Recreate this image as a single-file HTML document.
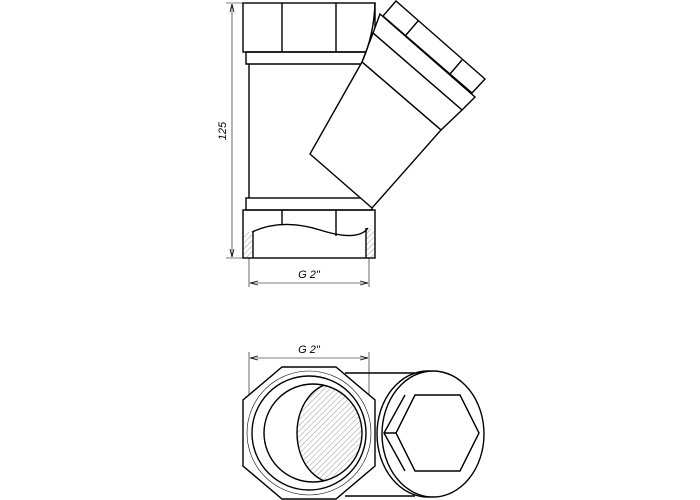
<!DOCTYPE html>
<html><head><style>body{margin:0;background:#fff}svg{display:block}</style></head><body>
<svg width="700" height="500" viewBox="0 0 700 500" xmlns="http://www.w3.org/2000/svg">
<defs>
<pattern id="h" width="4" height="4" patternUnits="userSpaceOnUse" patternTransform="rotate(45)"><line x1="0" y1="0" x2="0" y2="4" stroke="#555" stroke-width="0.6"/></pattern>
<clipPath id="ci"><circle cx="313" cy="433" r="49"/></clipPath>
<marker id="a" markerWidth="8" markerHeight="6" refX="8" refY="3" orient="auto-start-reverse" markerUnits="userSpaceOnUse"><path d="M0,1 L8,3 L0,5" fill="none" stroke="#000" stroke-width="0.8"/></marker>
</defs>
<g fill="none" stroke="#000" stroke-width="1.4">
<rect x="243" y="3" width="132" height="49" fill="#fff"/>
<line x1="282" y1="3" x2="282" y2="52"/><line x1="336" y1="3" x2="336" y2="52"/>
<path d="M246,52 V64 H362"/><line x1="246" y1="52" x2="368" y2="52"/>
<line x1="249" y1="64" x2="249" y2="198"/>
<rect x="246" y="198" width="126" height="12"/>
<rect x="243" y="210" width="132" height="48"/>
<line x1="282" y1="210" x2="282" y2="224"/><line x1="336" y1="210" x2="336" y2="236"/>
<path d="M252,232 Q282,218 320,230 T368,228"/>
<line x1="253" y1="232" x2="253" y2="258"/><line x1="366" y1="228" x2="366" y2="258"/>
<!-- branch -->
<path d="M396,1 L485,79 L472,93 L383,16 Z" fill="#fff"/>
<line x1="418" y1="21" x2="406" y2="35"/><line x1="462" y1="60" x2="450" y2="74"/>
<path d="M380,14 L475,97 L462,110 L373,33 Z" fill="#fff"/>
<path d="M373,33 L462,110 L441,130 L362,62 Z" fill="#fff"/>
<path d="M372,208 L310,154 L362,62 L441,130 Z" fill="#fff"/>
<path d="M375,3 Q374,35 362,62"/>
</g>
<g fill="url(#h)" stroke="none"><rect x="244" y="232" width="9" height="26"/><rect x="366" y="229" width="9" height="29"/></g>
<g stroke="#000" stroke-width="0.6" fill="none">
<line x1="226" y1="3" x2="243" y2="3"/><line x1="226" y1="258" x2="243" y2="258"/>
<line x1="232" y1="4" x2="232" y2="257" marker-start="url(#a)" marker-end="url(#a)"/>
<line x1="249" y1="258" x2="249" y2="287"/><line x1="369" y1="258" x2="369" y2="287"/>
<line x1="250" y1="283" x2="368" y2="283" marker-start="url(#a)" marker-end="url(#a)"/>
<line x1="249" y1="352" x2="249" y2="420"/><line x1="369" y1="352" x2="369" y2="432"/>
<line x1="250" y1="358" x2="368" y2="358" marker-start="url(#a)" marker-end="url(#a)"/>
</g>
<g font-family="Liberation Sans, sans-serif" font-size="11" font-style="italic" fill="#000">
<text x="226" y="131" transform="rotate(-90 226 131)" text-anchor="middle">125</text>
<text x="309" y="278" text-anchor="middle">G 2"</text>
<text x="309" y="353" text-anchor="middle">G 2"</text>
</g>
<g fill="none" stroke="#000" stroke-width="1.4">
<line x1="345" y1="373" x2="415" y2="373"/><line x1="345" y1="496" x2="415" y2="496"/>
<ellipse cx="428" cy="434" rx="51" ry="63" fill="#fff"/>
<ellipse cx="433" cy="434" rx="51" ry="63" fill="#fff"/>
<path d="M415,395 H460 L479,433 L460,471 H415 L396,433 Z"/>
<path d="M405,395 L384,433 L405,471 M384,433 H396"/>
<path d="M282,367 H336 L375,400 V466 L336,499 H282 L243,466 V400 Z" fill="#fff"/>
<circle cx="309" cy="433" r="62" stroke-width="0.6"/>
<circle cx="309" cy="433" r="57"/>
<ellipse cx="335" cy="433" rx="38" ry="50" fill="url(#h)" clip-path="url(#ci)"/>
<circle cx="313" cy="433" r="49"/>
</g>
</svg>
</body></html>
